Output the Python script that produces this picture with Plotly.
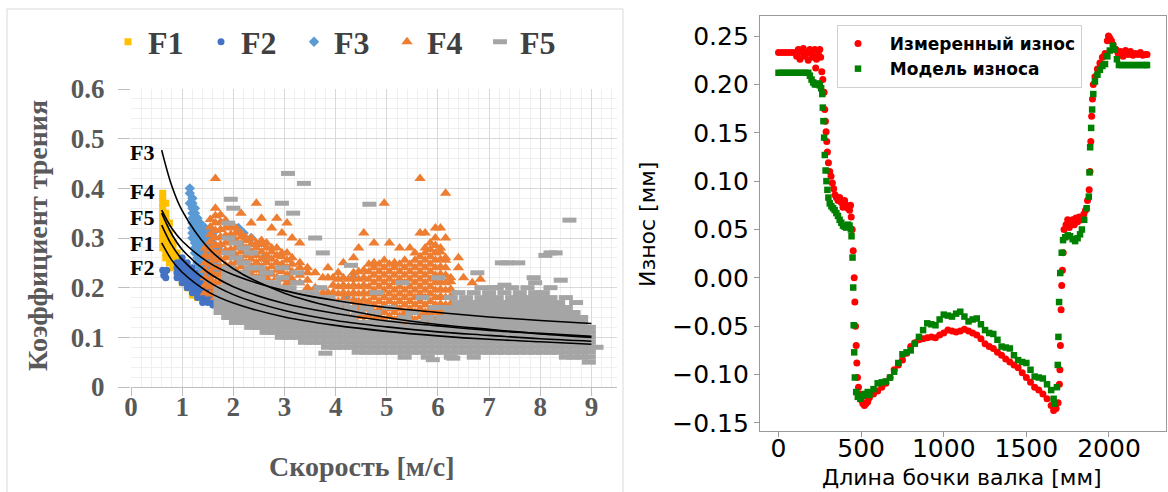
import plotly.graph_objects as go

W, H = 1168, 492

# ---------------- Left chart data (friction coefficient vs speed) ----------------
F1_X = [0.62]*12 + [0.68]*11 + [0.75]*8 + [0.82]*6 + [0.9]*5 + [1.0]*5 + [1.1]*4 + [1.2]*4 + [1.3]*3 + [1.4]*2
F1_Y = [0.39,0.38,0.37,0.36,0.35,0.34,0.33,0.32,0.31,0.30,0.29,0.28,
        0.37,0.35,0.34,0.33,0.32,0.31,0.30,0.29,0.28,0.27,0.26,
        0.33,0.31,0.30,0.29,0.28,0.27,0.26,0.25,
        0.29,0.28,0.27,0.26,0.25,0.24,
        0.27,0.26,0.25,0.24,0.23,
        0.25,0.24,0.23,0.22,0.21,
        0.23,0.22,0.21,0.20,
        0.21,0.20,0.19,0.185,
        0.20,0.19,0.18,
        0.19,0.18]

F2_X = [0.62,0.64,0.66,0.68,0.70] + [0.9]*4 + [1.0]*6 + [1.1]*6 + [1.2]*6 + [1.3]*6 + [1.4]*6 + [1.5]*5 + [1.6]*5 + [1.7]*4 + [1.85]*2 + [2.0]*2
F2_Y = [0.235,0.225,0.23,0.22,0.235,
        0.25,0.24,0.23,0.22,
        0.26,0.25,0.24,0.23,0.22,0.21,
        0.25,0.24,0.23,0.22,0.21,0.20,
        0.24,0.23,0.22,0.21,0.20,0.19,
        0.23,0.22,0.21,0.20,0.19,0.18,
        0.22,0.21,0.20,0.19,0.18,0.17,
        0.21,0.20,0.19,0.18,0.17,
        0.20,0.19,0.18,0.17,0.165,
        0.19,0.18,0.17,0.16,
        0.175,0.165,
        0.17,0.16]

F3_X = ([1.15]*3 + [1.2]*9 + [1.25]*10 + [1.3]*10 + [1.35]*10 + [1.4]*9 + [1.45]*8 + [1.5]*9 + [1.55]*7
        + [1.6]*6 + [1.7]*3 + [2.1,2.2,2.35,2.6,3.3,4.2,4.4,4.35])
F3_Y = [0.40,0.39,0.37,
        0.38,0.37,0.36,0.35,0.34,0.33,0.32,0.31,0.30,
        0.36,0.35,0.34,0.33,0.32,0.31,0.30,0.29,0.28,0.27,
        0.34,0.33,0.32,0.31,0.30,0.29,0.28,0.27,0.26,0.25,
        0.33,0.32,0.31,0.30,0.29,0.28,0.27,0.26,0.25,0.24,
        0.31,0.30,0.29,0.28,0.27,0.26,0.25,0.24,0.23,
        0.32,0.30,0.28,0.27,0.26,0.25,0.24,0.22,
        0.30,0.29,0.28,0.27,0.26,0.25,0.24,0.23,0.22,
        0.31,0.29,0.27,0.26,0.24,0.23,0.21,
        0.31,0.29,0.27,0.25,0.23,0.21,
        0.28,0.26,0.24,
        0.32,0.31,0.30,0.26,0.16,0.18,0.17,0.22]

# orange cloud: columns of y values (hundredths)
F4_X_COLS = [1.45,1.55,1.65,1.75,1.85,1.95,2.05,2.15,2.25,2.35,2.45,2.55,2.65,2.75,2.85,2.95,3.05,3.15,3.3,3.45,3.6,3.75,
             3.85,3.95,4.05,4.15,4.25,4.35,4.45,4.55,4.65,4.75,4.85,4.95,5.05,5.15,5.25,5.35,5.45,5.55,5.65,5.75,5.85,5.95,
             6.05,6.15,6.25,6.4,6.5,6.6,6.67,6.83]
F4_Y_COLS = [[19,20.5,22,23.5,25,26.5,28],
             [18.7,20.2,21.7,23.2,24.7,26.2,27.7,29.2,30.7,32.2,33.7],
             [18,19.5,21,22.5,24,25.5,27,28.5,30,31.5,33,34.5,36,42],
             [19.7,21.2,22.7,24.2,25.7,27.2,28.7,30.2,31.7,33.2,34.7],
             [20,21.5,23,24.5,26,27.5,29,30.5,32,33.5],
             [21.7,23.2,24.7,26.2,27.7,29.2,30.7,32.2],
             [22,23.5,25,26.5,28,29.5,31,32],
             [22.7,24.2,25.7,27.2,28.7,30.2,31,35],
             [22,23.5,25,26.5,28,29.5,30],
             [22.7,24.2,25.7,27.2,28.7,30,33],
             [22,23.5,25,26.5,28,29,37],
             [22.7,24.2,25.7,27.2,28.7,29.5,34],
             [22,23.5,25,26.5,28,29],
             [22.7,24.2,25.7,27.2,28,32],
             [22,23.5,25,26.5,28,34],
             [21.7,23.2,24.7,26.2,27,31],
             [21,22.5,24,25.5,27,33],
             [21.7,23.2,24.7,26,30],
             [21,22.5,24,25,29],
             [20,21.5,23,24],
             [20,23],
             [19,22],
             [19,22,24],
             [16,17.5,19,20.5,22],
             [14.2,15.7,17.2,18.7,20.2,21.7,23],
             [13,14.5,16,17.5,19,20.5,22,25],
             [12.7,14.2,15.7,17.2,18.7,20.2,21.7],
             [13,14.5,16,17.5,19,20.5,22,23,26],
             [12.7,14.2,15.7,17.2,18.7,20.2,21.7,23.2,28],
             [13,14.5,16,17.5,19,20.5,22,23.5,31],
             [12.7,14.2,15.7,17.2,18.7,20.2,21.7,23.2,24.7],
             [12,13.5,15,16.5,18,19.5,21,22.5,24,25,29],
             [12.7,14.2,15.7,17.2,18.7,20.2,21.7,23.2,24.7],
             [12,13.5,15,16.5,18,19.5,21,22.5,24,25.5,37],
             [12.7,14.2,15.7,17.2,18.7,20.2,21.7,23.2,24.7,29],
             [12,13.5,15,16.5,18,19.5,21,22.5,24,25],
             [12.7,14.2,15.7,17.2,18.7,20.2,21.7,23.2,24.7,28],
             [12,13.5,15,16.5,18,19.5,21,22.5,24,25.5],
             [12.7,14.2,15.7,17.2,18.7,20.2,21.7,23.2,24.7,28],
             [12,13.5,15,16.5,18,19.5,21,22.5,24,25.5,27],
             [12.7,14.2,15.7,17.2,18.7,20.2,21.7,23.2,24.7,26.2,31,42],
             [12,13.5,15,16.5,18,19.5,21,22.5,24,25.5,27,28,31],
             [12.7,14.2,15.7,17.2,18.7,20.2,21.7,23.2,24.7,26.2,27.7,29],
             [12,13.5,15,16.5,18,19.5,21,22.5,24,25.5,27,28.5,30,32],
             [13.7,15.2,16.7,18.2,19.7,21.2,22.7,24.2,25.7,27.2,28,32],
             [15,16.5,18,19.5,21,22.5,24,25.5,26,30,39],
             [16.7,18.2,19.7,21.2,22],
             [24,26],
             [17,22],
             [15.5],
             [16,21],
             [21.7]]

# gray cloud: columns of y values (hundredths)
F5_X_COLS = [1.75,1.9,2.05,2.2,2.35,2.5,2.65,2.8,2.95,3.1,3.25,3.4,3.55,3.7,3.85,4.0,4.15,4.3,4.45,4.6,
             4.75,4.9,5.05,5.2,5.35,5.5,5.65,5.8,5.95,6.1,6.25,6.4,6.55,6.7,6.85,7.0,7.15,7.3,7.45,7.6,
             7.75,7.9,8.05,8.2,8.35,8.5,8.65,8.8,8.95]
F5_Y_COLS = [[15,16,17,18,19,20],
             [14,15,16,17,18,19,20,21,22,23,24,27,30,33],
             [13,14,15,16,17,18,19,20,21,22,23,26,29],
             [13,14,15,16,17,18,19,20,21,22,23,25,28],
             [12,13,14,15,16,17,18,19,20,21,22,24,27],
             [12,13,14,15,16,17,18,19,20,21,22,24],
             [11,12,13,14,15,16,17,18,19,20,21,23],
             [11,12,13,14,15,16,17,18,19,20,21],
             [10,11,12,13,14,15,16,17,18,19,20,22,24],
             [10,11,12,13,14,15,16,17,18,19,20],
             [10,11,12,13,14,15,16,17,18,19,21,23],
             [9,10,11,12,13,14,15,16,17,18,19],
             [9,10,11,12,13,14,15,16,17,18,19],
             [9,10,11,12,13,14,15,16,17,18,20],
             [8,9,10,11,12,13,14,15,16,17,18],
             [8,9,10,11,12,13,14,15,16,17],
             [8,9,10,11,12,13,14,15,17],
             [8,9,10,11,12,13,14,16],
             [7,8,9,10,11,12,13,15],
             [7,8,9,10,11,12,13,16],
             [7,8,9,10,11,12,13,15],
             [7,8,9,10,11,12,13],
             [7,8,9,10,11,12,13,16],
             [7,8,9,10,11,12,13],
             [6,7,8,9,10,11,12,14],
             [7,8,9,10,11,12,13,15],
             [7,8,9,10,11,12,13],
             [6,7,8,9,10,11,12,14],
             [7,8,9,10,11,12,13,16],
             [7,8,9,10,11,12,13,14,16],
             [6,7,8,9,10,11,12,13,14,15,16,18],
             [7,8,9,10,11,12,13,14,15,16,17,19],
             [7,8,9,10,11,12,13,14,15,16,17,18],
             [6,7,8,9,10,11,12,13,14,15,16,17,19],
             [7,8,9,10,11,12,13,14,15,16,17,18,20],
             [7,8,9,10,11,12,13,14,15,16,17,18,19],
             [7,8,9,10,11,12,13,14,15,16,17,18,20],
             [7,8,9,10,11,12,13,14,15,16,17,19],
             [7,8,9,10,11,12,13,14,15,16,17,18,20],
             [7,8,9,10,11,12,13,14,15,16,17,18,19],
             [7,8,9,10,11,12,13,14,15,16,17,18,20],
             [7,8,9,10,11,12,13,14,15,16,17,18,19,21],
             [7,8,9,10,11,12,13,14,15,16,17,18,19],
             [7,8,9,10,11,12,13,14,15,16,17,18,20],
             [7,8,9,10,11,12,13,14,15,16,17],
             [6,7,8,9,10,11,12,13,14,15,16,18],
             [6,7,8,9,10,11,12,13,14,15],
             [6,7,8,9,10,11,12,13,14],
             [5,6,7,8,9,10,11,12]]
F5_OUT_X = [3.07,3.38,2.95,4.66,8.57,3.6,1.95,2.0,3.17,8.1,8.2,8.3,6.77,7.36,7.57,7.87,7.3,7.1,8.4,
            7.25,4.3,3.75,8.7,8.9,9.1,3.8,5.9,6.3,4.8,5.3,5.7,6.0]
F5_OUT_Y = [0.43,0.41,0.37,0.368,0.336,0.30,0.378,0.36,0.35,0.265,0.27,0.27,0.23,0.25,0.25,0.22,0.205,0.20,0.215,
            0.25,0.245,0.27,0.17,0.12,0.08,0.068,0.055,0.058,0.19,0.21,0.18,0.22]

# fitted curves, values read at these speeds
CURVE_X = [0.6, 0.8, 1.0, 1.5, 2.0, 3.0, 4.0, 5.0, 6.0, 7.0, 8.0, 9.0]
CURVES = {
    "F3": [0.477,0.404,0.355,0.281,0.238,0.189,0.160,0.140,0.126,0.116,0.107,0.100],
    "F4": [0.356,0.319,0.294,0.252,0.226,0.194,0.174,0.160,0.150,0.141,0.134,0.128],
    "F5": [0.350,0.307,0.277,0.231,0.202,0.168,0.148,0.133,0.123,0.114,0.108,0.102],
    "F1": [0.326,0.285,0.257,0.213,0.186,0.154,0.134,0.121,0.111,0.104,0.097,0.092],
    "F2": [0.290,0.255,0.231,0.192,0.169,0.141,0.124,0.112,0.103,0.096,0.091,0.086],
}
CURVE_LABEL_Y = {"F3": 0.473, "F4": 0.394, "F5": 0.342, "F1": 0.288, "F2": 0.241}

# ---------------- Right chart data (roll wear profile) ----------------
MEAS_X = [0,20,40,60,80,100,110,120,130,140,150,160,170,180,190,200,210,220,225,230,240,250,255,262,
          268,276,280,284,288,292,296,302,310,318,326,334,342,350,360,370,380,390,400,410,420,430,436,440,
          446,452,458,462,466,470,474,478,484,492,500,510,520,530,540,
          550,575,600,625,650,675,700,725,750,775,800,825,850,875,900,925,950,975,1000,1025,1050,1075,1100,
          1125,1150,1175,1200,1225,1250,1275,1300,1325,1350,1375,1400,1425,1450,1475,1500,1525,1550,1575,
          1600,1625,1650,1665,1680,
          1692,1700,1703,1706,1710,1714,1718,1723,1728,1740,1750,1760,1770,1780,1790,1800,1810,1820,1835,
          1848,1858,1870,1880,1885,1890,1895,1900,1905,1915,1930,1945,1960,1976,1990,1997,2005,2015,2025,
          2042,2055,2070,2085,2100,2115,2130,2145,2160,2175,2190,2205,2220,2230]
MEAS_Y = [0.233,0.233,0.233,0.233,0.233,0.233,0.229,0.236,0.226,0.233,0.237,0.229,0.233,0.225,0.236,0.231,0.228,0.236,0.217,0.226,0.232,0.236,0.228,0.213,
          0.205,0.192,0.174,0.162,0.151,0.141,0.130,0.119,0.110,0.105,0.098,0.092,0.086,0.083,0.080,0.083,0.078,0.073,0.080,0.075,0.072,0.070,0.075,0.063,
          0.050,0.028,0.000,-0.025,-0.050,-0.070,-0.088,-0.103,-0.113,-0.120,-0.126,-0.130,-0.132,-0.130,-0.128,
          -0.124,-0.120,-0.117,-0.113,-0.109,-0.103,-0.095,-0.090,-0.085,-0.078,-0.071,-0.067,-0.064,-0.063,-0.062,-0.061,-0.062,-0.059,-0.057,-0.054,-0.055,-0.056,-0.055,
          -0.053,-0.055,-0.057,-0.059,-0.063,-0.068,-0.071,-0.073,-0.077,-0.080,-0.084,-0.087,-0.090,-0.093,-0.098,-0.103,-0.108,-0.113,-0.116,
          -0.120,-0.125,-0.132,-0.137,-0.135,
          -0.129,-0.110,-0.095,-0.070,-0.033,-0.008,0.008,0.026,0.050,0.055,0.060,0.052,0.058,0.060,0.055,0.062,0.058,0.063,0.060,
          0.066,0.070,0.080,0.091,0.110,0.141,0.167,0.185,0.200,0.208,0.216,0.222,0.228,0.232,0.245,0.250,0.248,0.245,0.241,
          0.236,0.232,0.234,0.229,0.235,0.231,0.234,0.230,0.232,0.231,0.233,0.230,0.231,0.231]

MODEL_X = [0,20,40,60,80,100,120,140,160,180,190,200,210,220,230,240,250,258,
           265,268,272,276,280,285,290,296,302,310,320,330,340,350,360,370,380,390,400,410,420,430,438,442,
           448,452,455,458,462,470,480,495,510,525,540,
           550,575,600,625,650,675,700,725,750,775,800,825,850,875,900,925,950,975,1000,1025,1050,1075,1100,
           1125,1150,1175,1200,1225,1250,1275,1300,1325,1350,1375,1400,1425,1450,1475,1500,1525,1550,1575,
           1600,1625,1650,1665,1672,
           1685,1690,1694,1698,1705,1714,1722,1735,1750,1765,1780,1795,1810,1825,1836,1850,1865,1878,
           1882,1886,1892,1898,1905,1915,1930,1945,1960,1976,1990,2005,2024,2035,2048,2060,2080,2100,
           2120,2140,2160,2180,2200,2220,2230]
MODEL_Y = [0.212,0.212,0.212,0.212,0.212,0.212,0.212,0.212,0.212,0.212,0.209,0.205,0.202,0.200,0.200,0.201,0.199,0.196,
           0.190,0.176,0.162,0.145,0.127,0.111,0.100,0.091,0.083,0.077,0.074,0.072,0.070,0.067,0.064,0.060,0.057,0.054,0.053,0.052,0.055,0.054,0.050,0.043,
           0.021,-0.010,-0.049,-0.077,-0.103,-0.118,-0.123,-0.125,-0.122,-0.120,-0.118,
           -0.121,-0.115,-0.109,-0.108,-0.107,-0.103,-0.097,-0.088,-0.079,-0.077,-0.075,-0.068,-0.061,-0.054,-0.047,-0.048,-0.049,-0.043,-0.038,-0.039,-0.040,-0.037,-0.035,
           -0.040,-0.045,-0.043,-0.042,-0.048,-0.054,-0.057,-0.058,-0.064,-0.071,-0.072,-0.073,-0.080,-0.085,-0.087,-0.088,-0.095,-0.102,-0.103,
           -0.104,-0.110,-0.116,-0.125,-0.130,
           -0.113,-0.090,-0.061,-0.025,0.005,0.026,0.039,0.042,0.044,0.043,0.040,0.038,0.041,0.045,0.050,0.060,0.072,0.084,
           0.109,0.135,0.155,0.174,0.190,0.203,0.210,0.215,0.219,0.221,0.229,0.235,0.240,0.236,0.226,0.220,0.220,0.220,
           0.220,0.220,0.220,0.220,0.220,0.220,0.220]

# ---------------- Build figure ----------------
def flat_cols(xcols, ycols, scale=1.0):
    xs, ys = [], []
    for x, col in zip(xcols, ycols):
        for y in col:
            xs.append(x)
            ys.append(y * scale)
    return xs, ys

f4x, f4y = flat_cols(F4_X_COLS, F4_Y_COLS, 0.01)
f5x, f5y = flat_cols(F5_X_COLS, F5_Y_COLS, 0.01)
f5x += F5_OUT_X
f5y += F5_OUT_Y

SERIF = "Liberation Serif"
SANS = "DejaVu Sans"
fig = go.Figure()

fig.add_trace(go.Scatter(x=F1_X, y=F1_Y, mode="markers", name="F1",
                         marker=dict(symbol="square", size=7, color="#FFC000"), legend="legend"))
fig.add_trace(go.Scatter(x=F2_X, y=F2_Y, mode="markers", name="F2",
                         marker=dict(symbol="circle", size=7, color="#4472C4"), legend="legend"))
fig.add_trace(go.Scatter(x=F3_X, y=F3_Y, mode="markers", name="F3",
                         marker=dict(symbol="diamond", size=8, color="#5B9BD5"), legend="legend"))
fig.add_trace(go.Scatter(x=f4x, y=f4y, mode="markers", name="F4",
                         marker=dict(symbol="triangle-up", size=10, color="#ED7D31"), legend="legend"))
fig.add_trace(go.Scatter(x=f5x, y=f5y, mode="markers", name="F5",
                         marker=dict(symbol="line-ew", size=10, color="#A5A5A5",
                                     line=dict(width=5, color="#A5A5A5")), legend="legend"))

for name, vals in CURVES.items():
    fig.add_trace(go.Scatter(x=CURVE_X, y=vals, mode="lines", line=dict(color="black", width=1.6, shape="spline"),
                             showlegend=False, hoverinfo="skip"))
    fig.add_annotation(x=0.21, y=CURVE_LABEL_Y[name], xref="x", yref="y", text=name, showarrow=False,
                       xanchor="center", yanchor="middle",
                       font=dict(family=SERIF, size=22, color="black", weight="bold"))

fig.add_trace(go.Scatter(x=MEAS_X, y=MEAS_Y, mode="markers", name="\u00a0\u00a0Измеренный износ",
                         marker=dict(symbol="circle", size=7, color="#FF0000"), xaxis="x2", yaxis="y2", legend="legend2"))
fig.add_trace(go.Scatter(x=MODEL_X, y=MODEL_Y, mode="markers", name="\u00a0\u00a0Модель износа",
                         marker=dict(symbol="square", size=6.5, color="#008000"), xaxis="x2", yaxis="y2", legend="legend2"))

px2x = lambda p: p / W
py2y = lambda p: 1 - p / H

fig.update_layout(
    width=W, height=H, margin=dict(l=0, r=0, t=0, b=0, autoexpand=False),
    paper_bgcolor="white", plot_bgcolor="white",
    showlegend=True,
    xaxis=dict(domain=[px2x(131), px2x(617)], range=[0, 9.5], tickvals=list(range(10)), automargin=False,
               showgrid=True, gridcolor="#d9d9d9", gridwidth=1,
               minor=dict(dtick=0.2, showgrid=True, gridcolor="#efefef"),
               showline=True, linecolor="#bfbfbf", ticks="outside", ticklen=8, tickcolor="#bfbfbf",
               ticklabelstandoff=-12,
               tickfont=dict(family=SERIF, size=27, color="#595959", weight="bold"), zeroline=False,
               anchor="y"),
    yaxis=dict(domain=[py2y(387), py2y(89)], range=[0, 0.6], dtick=0.1, automargin=False,
               showgrid=True, gridcolor="#d9d9d9", gridwidth=1,
               minor=dict(dtick=0.02, showgrid=True, gridcolor="#efefef"),
               showline=False, ticks="outside", ticklen=12, tickcolor="#bfbfbf",
               ticklabelstandoff=8,
               tickfont=dict(family=SERIF, size=27, color="#595959", weight="bold"), zeroline=False,
               anchor="x"),
    xaxis2=dict(domain=[px2x(760), px2x(1166)], range=[-112, 2345], tickvals=[0, 500, 1000, 1500, 2000],
                automargin=False, showgrid=False, zeroline=False, showline=True, mirror=True,
                linecolor="#999999", linewidth=1.3, ticks="outside", ticklen=5, tickcolor="#999999",
                ticklabelstandoff=-10,
                tickfont=dict(family=SANS, size=25, color="black"), anchor="y2"),
    yaxis2=dict(domain=[py2y(431), py2y(16)], range=[-0.1583, 0.2707],
                tickvals=[-0.15, -0.10, -0.05, 0, 0.05, 0.10, 0.15, 0.20, 0.25],
                tickformat=".2f", automargin=False, showgrid=False, zeroline=False, showline=True, mirror=True,
                linecolor="#999999", linewidth=1.3, ticks="outside", ticklen=5, tickcolor="#999999",
                tickfont=dict(family=SANS, size=25, color="black"), anchor="x2"),
    legend=dict(orientation="h", x=px2x(108), y=py2y(42), xanchor="left", yanchor="middle",
                entrywidth=48, entrywidthmode="pixels", bgcolor="rgba(0,0,0,0)",
                font=dict(family=SERIF, size=32, color="#404040", weight="bold")),
    legend2=dict(x=px2x(837), y=py2y(25), xanchor="left", yanchor="top",
                 bgcolor="white", bordercolor="#d0d0d0", borderwidth=1,
                 font=dict(family=SANS, size=17, color="black", weight="bold")),
)

# axis titles
fig.add_annotation(x=px2x(37), y=py2y(236), xref="paper", yref="paper", text="Коэффициент трения",
                   xanchor="center", yanchor="middle",
                   textangle=-90, showarrow=False, font=dict(family=SERIF, size=28, color="#595959", weight="bold"))
fig.add_annotation(x=px2x(361), y=py2y(466), xref="paper", yref="paper", text="Скорость [м/с]",
                   xanchor="center", yanchor="middle",
                   showarrow=False, font=dict(family=SERIF, size=28, color="#595959", weight="bold"))
fig.add_annotation(x=px2x(648), y=py2y(225), xref="paper", yref="paper", text="Износ [мм]",
                   xanchor="center", yanchor="middle",
                   textangle=-90, showarrow=False, font=dict(family=SANS, size=22, color="black"))
fig.add_annotation(x=px2x(962), y=py2y(477), xref="paper", yref="paper", text="Длина бочки валка [мм]",
                   xanchor="center", yanchor="middle",
                   showarrow=False, font=dict(family=SANS, size=22, color="black"))

# frame around the left chart
fig.add_shape(type="rect", xref="paper", yref="paper", x0=px2x(7), x1=px2x(623), y0=-0.02, y1=py2y(9),
              line=dict(color="#d9d9d9", width=1), fillcolor="rgba(0,0,0,0)", layer="below")

fig.write_html("out.html", config={"displayModeBar": False},
               post_script="document.body.style.margin='0';document.body.style.padding='0';")
